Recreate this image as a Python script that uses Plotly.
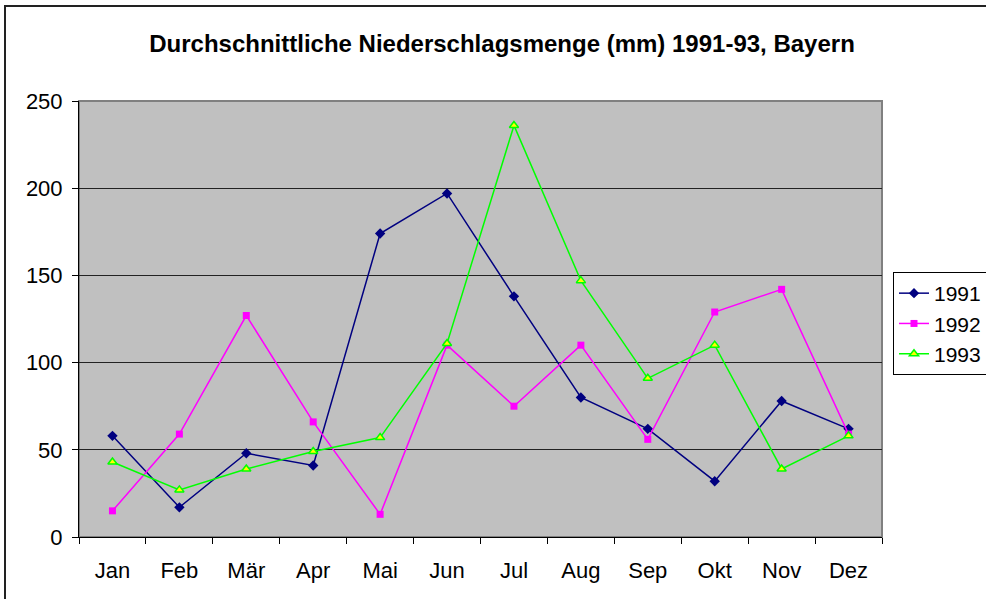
import plotly.graph_objects as go

months = ['Jan', 'Feb', 'Mär', 'Apr', 'Mai', 'Jun', 'Jul', 'Aug', 'Sep', 'Okt', 'Nov', 'Dez']
rain_1991 = [58, 17, 48, 41, 174, 197, 138, 80, 62, 32, 78, 62]
rain_1992 = [15, 59, 127, 66, 13, 110, 75, 110, 56, 129, 142, 59]
rain_1993 = [43, 27, 39, 49, 57, 111, 236, 147, 91, 110, 39, 58]
y_ticks = [0, 50, 100, 150, 200, 250]

font_family = 'Liberation Sans, Arial, sans-serif'

fig = go.Figure()
fig.add_trace(go.Scatter(x=months, y=rain_1991, name='1991', mode='lines+markers',
                         line=dict(color='#000080', width=1.5),
                         marker=dict(symbol='diamond', size=8, color='#000080')))
fig.add_trace(go.Scatter(x=months, y=rain_1992, name='1992', mode='lines+markers',
                         line=dict(color='#FF00FF', width=1.5),
                         marker=dict(symbol='square', size=7, color='#FF00FF')))
fig.add_trace(go.Scatter(x=months, y=rain_1993, name='1993', mode='lines+markers',
                         line=dict(color='#00FF00', width=1.5),
                         marker=dict(symbol='triangle-up', size=8, color='#FFFF00',
                                     line=dict(color='#00FF00', width=1.5))))

fig.update_layout(
    width=986, height=599,
    margin=dict(l=79, r=104, t=101, b=62, autoexpand=False),
    paper_bgcolor='white',
    plot_bgcolor='#C0C0C0',
    font=dict(family=font_family, size=22, color='black'),
    title=dict(text='<b>Durchschnittliche Niederschlagsmenge (mm) 1991-93, Bayern</b>',
               x=502 / 986, xref='container', xanchor='center',
               y=1 - 44 / 599, yref='container', yanchor='middle',
               font=dict(size=24)),
    legend=dict(x=(893 - 79) / 803, y=(537 - 272) / 436, xanchor='left', yanchor='top',
                bordercolor='black', borderwidth=1, bgcolor='white',
                font=dict(size=21), tracegroupgap=0, itemwidth=30),
    showlegend=True,
)

fig.update_xaxes(type='category', range=[-0.5, 11.5], tickson='boundaries',
                 ticks='outside', ticklen=6, tickcolor='black',
                 showline=True, linecolor='black', linewidth=1,
                 showgrid=False, zeroline=False, ticklabelstandoff=14)
fig.update_yaxes(range=[0, 250], tickvals=y_ticks, ticks='outside', ticklen=6,
                 tickcolor='black', showline=True, linecolor='black', linewidth=1,
                 gridcolor='#222222', gridwidth=1, zeroline=False, ticklabelstandoff=5)

# plot area border (gray, like Excel)
fig.add_shape(type='rect', xref='paper', yref='paper', x0=0, x1=1, y0=0, y1=1,
              line=dict(color='#808080', width=2), layer='below')
# outer chart frame (right and bottom edges fall outside the picture)
fig.add_shape(type='rect', xref='paper', yref='paper',
              x0=(5 - 79) / 803, x1=(1000 - 79) / 803,
              y0=(537 - 620) / 436, y1=(537 - 6) / 436,
              line=dict(color='#222222', width=2))

fig.write_html("out.html", config={'displayModeBar': False},
               post_script="document.body.style.margin='0';")
